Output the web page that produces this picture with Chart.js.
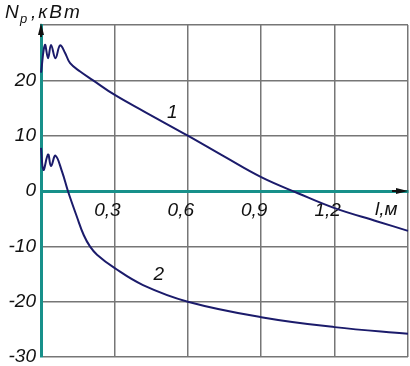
<!DOCTYPE html>
<html>
<head>
<meta charset="utf-8">
<script src="https://cdn.jsdelivr.net/npm/chart.js@4"></script>
<style>
  html, body { margin: 0; padding: 0; background: #fff; }
  canvas { display: block; }
</style>
</head>
<body>
<canvas id="chart" width="410" height="366"></canvas>
<script>
// curve 1
const curve1X = [0, 0.016, 0.029, 0.041, 0.059, 0.078, 0.098, 0.119, 0.16, 0.213, 0.3, 0.42, 0.6, 0.75, 0.9, 1.05, 1.2, 1.375, 1.5];
const curve1Y = [21.4, 26.4, 24.0, 26.4, 24.0, 26.3, 25.0, 23.1, 21.6, 20.0, 17.4, 14.4, 10.0, 6.2, 2.5, -0.4, -3.1, -5.5, -7.2];
// curve 2
const curve2X = [0, 0.01, 0.029, 0.041, 0.059, 0.086, 0.11, 0.147, 0.175, 0.2, 0.229, 0.3, 0.417, 0.6, 0.9, 1.2, 1.5];
const curve2Y = [7.8, 3.8, 6.6, 4.5, 6.4, 3.5, 0, -4.7, -8.0, -10.0, -11.5, -13.9, -17.0, -20.0, -22.8, -24.6, -25.8];

const xTickLabels = ['', '0,3', '0,6', '0,9', '1,2', ''];
const yTickLabels = ['-30', '-20', '-10', '0', '10', '20', ''];

const teal = '#17908a';
const navy = '#1b1b6b';
const gridGray = '#767676';
const font = '"Liberation Sans", Arial, sans-serif';

function toPoints(xs, ys) {
    return xs.map((x, i) => ({ x: x, y: ys[i] }));
}

const extras = {
    id: 'extras',
    afterDraw(chart) {
        const ctx = chart.ctx;
        const xs = chart.scales.x, ys = chart.scales.y;
        const x0 = xs.getPixelForValue(0), y0 = ys.getPixelForValue(0);
        const top = chart.chartArea.top, right = chart.chartArea.right;
        ctx.save();
        ctx.fillStyle = '#111';
        // arrow heads
        ctx.beginPath();
        ctx.moveTo(x0, top - 2);
        ctx.lineTo(x0 - 3, top + 10);
        ctx.lineTo(x0 + 3, top + 10);
        ctx.closePath();
        ctx.fill();
        ctx.fillRect(x0 - 1, top + 8, 2, 4);
        ctx.beginPath();
        ctx.moveTo(right, y0);
        ctx.lineTo(right - 12, y0 - 3);
        ctx.lineTo(right - 12, y0 + 3);
        ctx.closePath();
        ctx.fill();
        ctx.fillRect(right - 16, y0 - 1, 6, 2);

        // title
        ctx.textBaseline = 'alphabetic';
        ctx.font = 'italic 19px ' + font;
        ctx.fillText('N', 5, 18);
        ctx.font = 'italic 13px ' + font;
        ctx.fillText('p', 20, 23);
        ctx.font = 'italic 19px ' + font;
        ctx.letterSpacing = '2px';
        ctx.fillText(',кВт', 31, 18);
        ctx.letterSpacing = '0px';

        // axis name and curve labels
        ctx.fillText('l,м', 375, y0 + 24);
        ctx.fillText('1', xs.getPixelForValue(0.515), ys.getPixelForValue(13.2));
        ctx.fillText('2', xs.getPixelForValue(0.46), ys.getPixelForValue(-16.1));
        ctx.restore();
    }
};

const lineStyle = {
    borderColor: navy,
    borderWidth: 2,
    pointRadius: 0,
    fill: false,
    tension: 0.4,
    clip: false
};

new Chart(document.getElementById('chart').getContext('2d'), {
    type: 'line',
    data: {
        datasets: [
            Object.assign({ data: toPoints(curve1X, curve1Y) }, lineStyle),
            Object.assign({ data: toPoints(curve2X, curve2Y) }, lineStyle)
        ]
    },
    options: {
        responsive: false,
        animation: false,
        layout: { padding: { top: 25, right: 2, bottom: 9, left: 0 } },
        plugins: { legend: { display: false }, tooltip: { enabled: false } },
        scales: {
            x: {
                type: 'linear',
                min: 0,
                max: 1.5,
                position: { y: 0 },
                ticks: {
                    stepSize: 0.3,
                    autoSkip: false,
                    maxRotation: 0,
                    labelOffset: -7,
                    padding: 8,
                    color: '#111',
                    font: { family: font, size: 19, style: 'italic' },
                    callback: (v, i) => xTickLabels[i]
                },
                grid: {
                    color: c => (c.tick && c.tick.value === 0) ? 'rgba(0,0,0,0)' : gridGray,
                    lineWidth: 1.5,
                    drawTicks: false
                },
                border: { color: teal, width: 3 },
                afterFit: s => {
                    s.paddingLeft = 0;
                    s.paddingRight = 0;
                }
            },
            y: {
                min: -30,
                max: 30,
                ticks: {
                    stepSize: 10,
                    padding: 5,
                    color: '#111',
                    font: { family: font, size: 19, style: 'italic' },
                    callback: (v, i) => yTickLabels[i]
                },
                grid: {
                    color: c => (c.tick && c.tick.value === 0) ? 'rgba(0,0,0,0)' : gridGray,
                    lineWidth: 1.5,
                    drawTicks: false
                },
                border: { color: teal, width: 3 },
                afterFit: s => {
                    s.width = 41;
                    s.paddingTop = 0;
                    s.paddingBottom = 0;
                }
            }
        }
    },
    plugins: [extras]
});
</script>
</body>
</html>
